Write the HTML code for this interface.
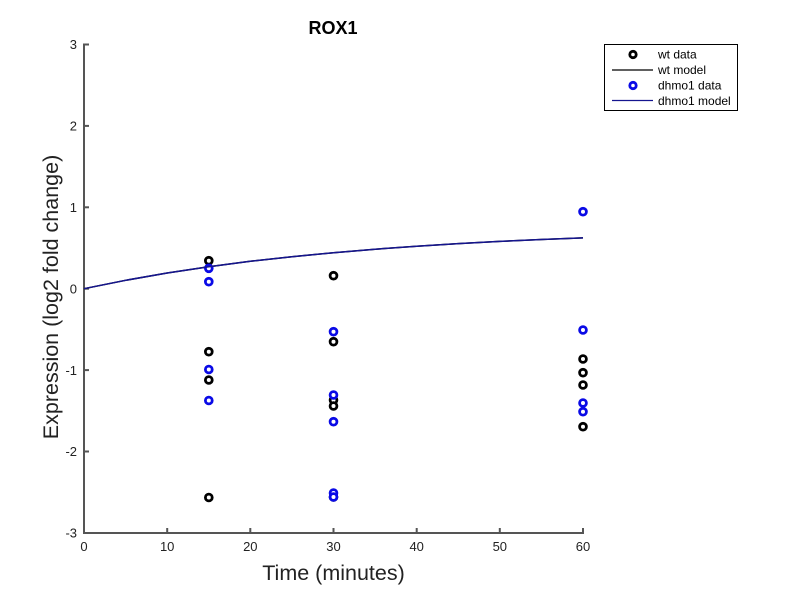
<!DOCTYPE html>
<html>
<head>
<meta charset="utf-8">
<style>
html,body{margin:0;padding:0;background:#fff;}
svg{display:block;}
text{font-family:"Liberation Sans",Arial,sans-serif;}
</style>
</head>
<body>
<svg width="800" height="600" viewBox="0 0 800 600" xmlns="http://www.w3.org/2000/svg">
<rect width="800" height="600" fill="#fff"/>
<!-- title -->
<text x="333" y="34" font-size="18" font-weight="bold" text-anchor="middle" fill="#000">ROX1</text>
<!-- axes -->
<g stroke="#555" stroke-width="2" fill="none">
<line x1="84" y1="43.5" x2="84" y2="534"/>
<line x1="83" y1="533" x2="584" y2="533"/>
<line x1="84" y1="44.5" x2="89" y2="44.5"/>
<line x1="84" y1="125.9" x2="89" y2="125.9"/>
<line x1="84" y1="207.3" x2="89" y2="207.3"/>
<line x1="84" y1="288.7" x2="89" y2="288.7"/>
<line x1="84" y1="370.1" x2="89" y2="370.1"/>
<line x1="84" y1="451.5" x2="89" y2="451.5"/>
<line x1="167.2" y1="533" x2="167.2" y2="528"/>
<line x1="250.3" y1="533" x2="250.3" y2="528"/>
<line x1="333.5" y1="533" x2="333.5" y2="528"/>
<line x1="416.7" y1="533" x2="416.7" y2="528"/>
<line x1="499.8" y1="533" x2="499.8" y2="528"/>
<line x1="583" y1="533" x2="583" y2="528"/>
</g>
<!-- y tick labels -->
<g font-size="13" fill="#222" text-anchor="end">
<text x="77" y="49">3</text>
<text x="77" y="130.5">2</text>
<text x="77" y="212">1</text>
<text x="77" y="293.5">0</text>
<text x="77" y="375">-1</text>
<text x="77" y="456">-2</text>
<text x="77" y="537.5">-3</text>
</g>
<!-- x tick labels -->
<g font-size="13" fill="#222" text-anchor="middle">
<text x="84" y="551">0</text>
<text x="167.2" y="551">10</text>
<text x="250.3" y="551">20</text>
<text x="333.5" y="551">30</text>
<text x="416.7" y="551">40</text>
<text x="499.8" y="551">50</text>
<text x="583" y="551">60</text>
</g>
<!-- axis labels -->
<text x="333.5" y="580" font-size="21.5" text-anchor="middle" fill="#222">Time (minutes)</text>
<text transform="translate(58,297) rotate(-90)" font-size="21.5" text-anchor="middle" fill="#222">Expression (log2 fold change)</text>
<!-- wt data -->
<g stroke="#000" stroke-width="2.8" fill="#fff">
<circle cx="208.8" cy="260.7" r="3.4"/>
<circle cx="208.8" cy="351.7" r="3.4"/>
<circle cx="208.8" cy="380" r="3.4"/>
<circle cx="208.8" cy="497.5" r="3.4"/>
<circle cx="333.5" cy="275.7" r="3.4"/>
<circle cx="333.5" cy="341.7" r="3.4"/>
<circle cx="333.5" cy="400" r="3.4"/>
<circle cx="333.5" cy="406" r="3.4"/>
<circle cx="333.5" cy="497" r="3.4"/>
<circle cx="583" cy="359" r="3.4"/>
<circle cx="583" cy="372.7" r="3.4"/>
<circle cx="583" cy="385" r="3.4"/>
<circle cx="583" cy="426.7" r="3.4"/>
</g>
<!-- wt model -->
<polyline fill="none" stroke="#000" stroke-width="1.5" points="84,288.7 125.6,280.3 167.2,273 208.8,266.7 250.3,261.3 291.9,256.7 333.5,252.7 375.1,249.2 416.7,246.2 458.2,243.6 499.8,241.4 541.4,239.5 583,237.9"/>
<!-- dhmo1 data -->
<g stroke="#0a0ae6" stroke-width="2.8" fill="#fff">
<circle cx="208.8" cy="268.3" r="3.4"/>
<circle cx="208.8" cy="281.7" r="3.4"/>
<circle cx="208.8" cy="369.5" r="3.4"/>
<circle cx="208.8" cy="400.5" r="3.4"/>
<circle cx="333.5" cy="331.7" r="3.4"/>
<circle cx="333.5" cy="395" r="3.4"/>
<circle cx="333.5" cy="421.7" r="3.4"/>
<circle cx="333.5" cy="493" r="3.4"/>
<circle cx="333.5" cy="497" r="3.4"/>
<circle cx="583" cy="211.7" r="3.4"/>
<circle cx="583" cy="330" r="3.4"/>
<circle cx="583" cy="403" r="3.4"/>
<circle cx="583" cy="411.7" r="3.4"/>
</g>
<!-- dhmo1 model -->
<polyline fill="none" stroke="#15158f" stroke-width="1.5" points="84,288.7 125.6,280.3 167.2,273 208.8,266.7 250.3,261.3 291.9,256.7 333.5,252.7 375.1,249.2 416.7,246.2 458.2,243.6 499.8,241.4 541.4,239.5 583,237.9"/>
<!-- legend -->
<rect x="604.5" y="44.5" width="133" height="66" fill="#fff" stroke="#000" stroke-width="1"/>
<circle cx="633" cy="54.5" r="3.2" stroke="#000" stroke-width="2.8" fill="#fff"/>
<line x1="612" y1="70" x2="653" y2="70" stroke="#000" stroke-width="1.2"/>
<circle cx="633" cy="85.5" r="3.2" stroke="#0a0ae6" stroke-width="2.8" fill="#fff"/>
<line x1="612" y1="100.5" x2="653" y2="100.5" stroke="#15158f" stroke-width="1.2"/>
<g font-size="12" fill="#000">
<text x="658" y="58.5">wt data</text>
<text x="658" y="74">wt model</text>
<text x="658" y="89.5">dhmo1 data</text>
<text x="658" y="105">dhmo1 model</text>
</g>
</svg>
</body>
</html>
